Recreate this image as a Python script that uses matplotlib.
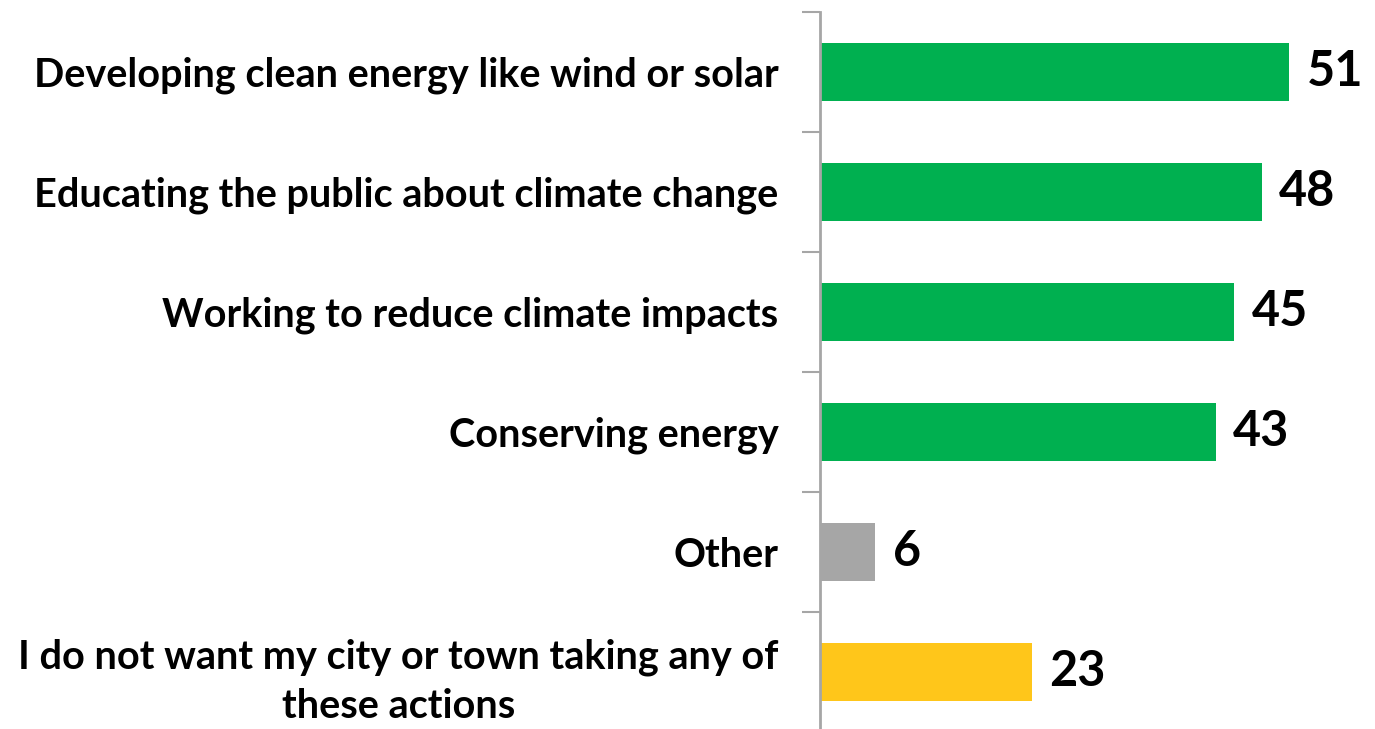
import matplotlib
matplotlib.use("Agg")
import matplotlib.pyplot as plt

categories = [
    "Developing clean energy like wind or solar",
    "Educating the public about climate change",
    "Working to reduce climate impacts",
    "Conserving energy",
    "Other",
    "I do not want my city or town taking any of\nthese actions",
]
values = [51, 48, 45, 43, 6, 23]
colors = ["#00B050", "#00B050", "#00B050", "#00B050", "#A6A6A6", "#FFC61A"]

plt.rcParams['font.family'] = ['Lato', 'DejaVu Sans']

W, H = 1375, 729
fig = plt.figure(figsize=(W / 100, H / 100), dpi=100)
ax = fig.add_axes([820 / W, -3 / H, 552 / W, 720 / H])

y = list(range(len(categories)))
ax.barh(y, values, height=0.48, color=colors, zorder=2)
ax.set_ylim(len(categories) - 0.5, -0.5)
ax.set_xlim(0, 60)

for yi, v in zip(y, values):
    ax.text(v + 1.9, yi, str(v), va='center', ha='left', fontsize=35,
            fontweight='bold', color='black')

ax.set_yticks([i - 0.5 for i in range(len(categories) + 1)])
ax.set_yticklabels([])
ax.set_yticks(y, minor=True)
ax.set_yticklabels(categories, minor=True, fontsize=28.5, fontweight='bold',
                   ha='right', multialignment='center', linespacing=1.4)
ax.tick_params(axis='y', which='major', length=13, width=1.5, color='#A6A6A6')
ax.tick_params(axis='y', which='minor', length=0, pad=30)
ax.set_xticks([])
for s in ['top', 'right', 'bottom']:
    ax.spines[s].set_visible(False)
ax.spines['left'].set_color('#A6A6A6')
ax.spines['left'].set_linewidth(2)

fig.savefig('out.png', dpi=100)
